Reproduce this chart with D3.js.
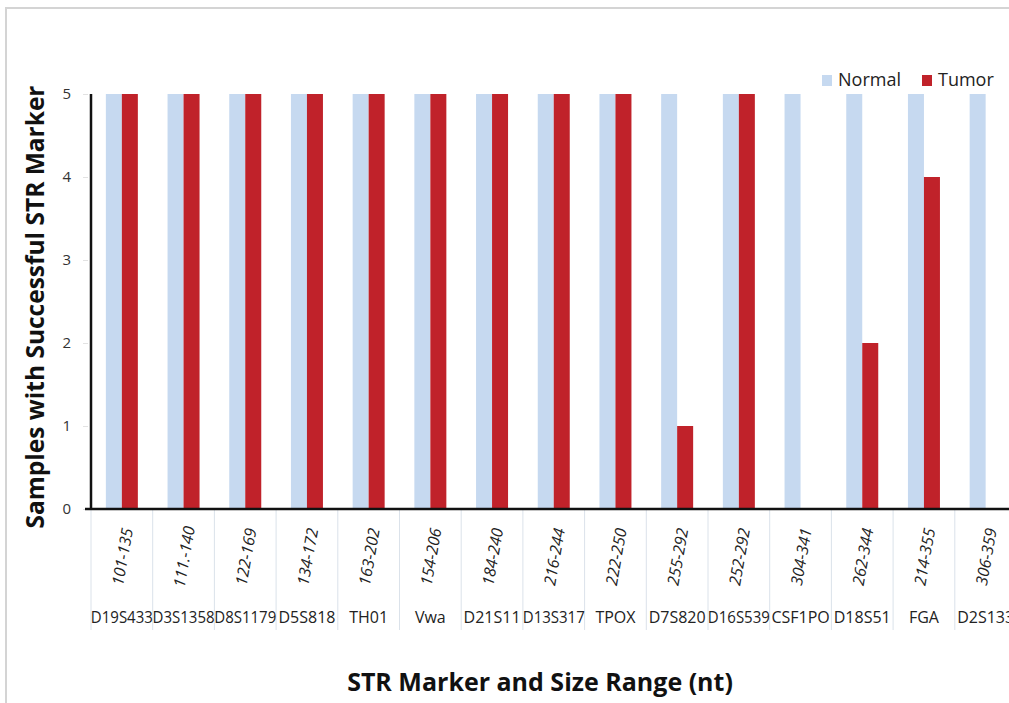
<!DOCTYPE html>
<html>
<head>
<meta charset="utf-8">
<script src="https://cdn.jsdelivr.net/npm/d3@7"></script>
<style>
  body { margin: 0; background: #fff; }
  svg { display: block; }
  text { font-family: "Open Sans", "Noto Sans", sans-serif; }
</style>
</head>
<body>
<svg id="chart"></svg>
<script>
// STR markers and their size ranges (nt)
const markers = ["D19S433", "D3S1358", "D8S1179", "D5S818", "TH01", "Vwa", "D21S11", "D13S317",
  "TPOX", "D7S820", "D16S539", "CSF1PO", "D18S51", "FGA", "D2S133"];
const sizeRanges = ["101-135", "111.-140", "122-169", "134-172", "163-202", "154-206", "184-240", "216-244",
  "222-250", "255-292", "252-292", "304-341", "262-344", "214-355", "306-359"];
const seriesNames = ["Normal", "Tumor"];
const normalValues = [5, 5, 5, 5, 5, 5, 5, 5, 5, 5, 5, 5, 5, 5, 5];
const tumorValues = [5, 5, 5, 5, 5, 5, 5, 5, 5, 1, 5, 0, 2, 4, 0];
const yTicks = [0, 1, 2, 3, 4, 5];

const colors = { Normal: "#c6d9f0", Tumor: "#c0222a" };

const width = 1009;
const height = 703;

const svg = d3.select("#chart")
    .attr("width", width)
    .attr("height", height);

// light frame round the chart area
svg.append("path")
    .attr("d", `M6,${height} V8 H${width}`)
    .attr("fill", "none")
    .attr("stroke", "#d4d4d4")
    .attr("stroke-width", 2);

const axisLeftX = 91;
const axisBottomY = 509;

const xScale = d3.scaleBand()
    .domain(markers)
    .range([axisLeftX, axisLeftX + 15 * 61.7])
    .paddingInner(0)
    .paddingOuter(0);

const barGroupWidth = 32;
const xInner = d3.scaleBand()
    .domain(seriesNames)
    .range([0, barGroupWidth]);

const yScale = d3.scaleLinear()
    .domain([0, 5])
    .range([axisBottomY, 94]);

const rows = markers.map((m, i) => ({ marker: m, size: sizeRanges[i], Normal: normalValues[i], Tumor: tumorValues[i] }));

// bars
const groups = svg.append("g").selectAll("g")
    .data(rows)
    .enter().append("g")
    .attr("transform", d => `translate(${xScale(d.marker) + (xScale.bandwidth() - barGroupWidth) / 2},0)`);

groups.selectAll("rect")
    .data(d => seriesNames.map(s => ({ key: s, value: d[s] })))
    .enter().append("rect")
    .attr("x", d => xInner(d.key))
    .attr("width", xInner.bandwidth())
    .attr("y", d => yScale(d.value))
    .attr("height", d => axisBottomY - yScale(d.value))
    .attr("fill", d => colors[d.key]);

// category separators below the axis
const bounds = markers.map(m => xScale(m)).concat([xScale.range()[1]]);
svg.append("g").selectAll("line")
    .data(bounds)
    .enter().append("line")
    .attr("x1", d => d).attr("x2", d => d)
    .attr("y1", axisBottomY).attr("y2", 630)
    .attr("stroke", "#dbe2ea")
    .attr("stroke-width", 1);

// y axis
const yAxis = d3.axisLeft(yScale)
    .tickValues(yTicks)
    .tickSize(6)
    .tickPadding(14)
    .tickFormat(d3.format("d"));

const yAxisG = svg.append("g")
    .attr("transform", `translate(${axisLeftX},0)`)
    .call(yAxis);
yAxisG.select(".domain").remove();
yAxisG.selectAll(".tick line").attr("stroke", "#e2e2e2").attr("x1", -8).attr("x2", -3);
yAxisG.selectAll(".tick text")
    .attr("font-size", 15)
    .attr("fill", "#333")
    .style("font-family", "'Open Sans', sans-serif");

svg.append("line")
    .attr("x1", axisLeftX).attr("x2", axisLeftX)
    .attr("y1", 94).attr("y2", axisBottomY + 1)
    .attr("stroke", "#111")
    .attr("stroke-width", 2.5);

// x axis line
svg.append("line")
    .attr("x1", axisLeftX - 6).attr("x2", width)
    .attr("y1", axisBottomY).attr("y2", axisBottomY)
    .attr("stroke", "#111")
    .attr("stroke-width", 2.5);

// size range labels (rotated, italic)
svg.append("g").selectAll("text")
    .data(rows)
    .enter().append("text")
    .attr("transform", d => `translate(${xScale(d.marker) + xScale.bandwidth() / 2 + 2},557) rotate(-80)`)
    .attr("text-anchor", "middle")
    .attr("dominant-baseline", "middle")
    .attr("font-size", 16)
    .attr("font-style", "italic")
    .attr("fill", "#222")
    .text(d => d.size);

// marker names
svg.append("g").selectAll("text")
    .data(rows)
    .enter().append("text")
    .attr("x", d => xScale(d.marker) + xScale.bandwidth() / 2)
    .attr("y", 623)
    .attr("text-anchor", "middle")
    .attr("font-size", 16)
    .attr("fill", "#222")
    .attr("textLength", d => d.marker.length > 6 ? 62 : null)
    .attr("lengthAdjust", "spacingAndGlyphs")
    .text(d => d.marker);

// axis titles
svg.append("text")
    .attr("transform", "translate(44,307) rotate(-90)")
    .attr("text-anchor", "middle")
    .attr("font-size", 24.5)
    .attr("font-weight", "bold")
    .attr("fill", "#111")
    .text("Samples with Successful STR Marker");

svg.append("text")
    .attr("x", 540)
    .attr("y", 691)
    .attr("text-anchor", "middle")
    .attr("font-size", 25)
    .attr("font-weight", "bold")
    .attr("fill", "#111")
    .text("STR Marker and Size Range (nt)");

// legend
const legend = svg.append("g").attr("transform", "translate(822,81)");
const legendX = { Normal: 0, Tumor: 100 };
seriesNames.forEach(s => {
  const g = legend.append("g").attr("transform", `translate(${legendX[s]},0)`);
  g.append("rect").attr("x", 0).attr("y", -6).attr("width", 10).attr("height", 11).attr("fill", colors[s]);
  g.append("text")
      .attr("x", 16).attr("y", 0)
      .attr("dominant-baseline", "middle")
      .attr("font-size", 18)
      .attr("fill", "#222")
      .text(s);
});
</script>
</body>
</html>
